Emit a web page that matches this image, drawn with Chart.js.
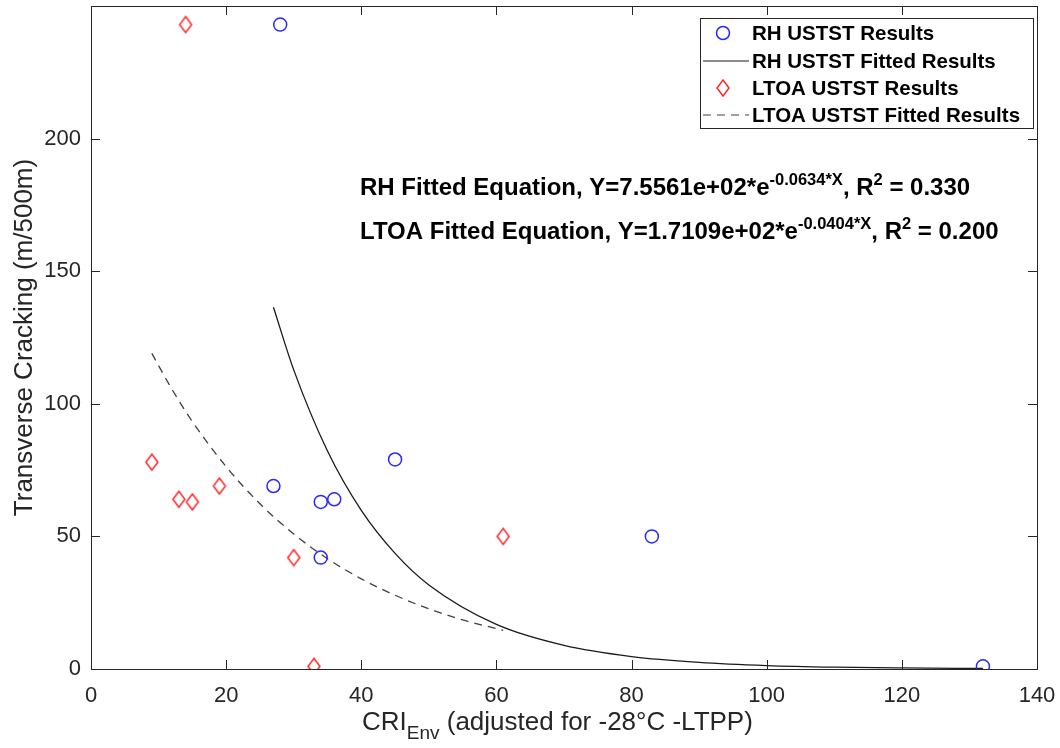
<!DOCTYPE html>
<html>
<head>
<meta charset="utf-8">
<script src="https://cdn.jsdelivr.net/npm/chart.js@4.4.0/dist/chart.umd.min.js"></script>
<style>
body{margin:0;background:#fff;}
</style>
</head>
<body>
<canvas id="mycanvas" width="1060" height="748"></canvas>
<script>
// measured points
var rhX = [28, 27, 34, 36, 34, 45, 83, 132];
var rhY = [243, 69, 63, 64, 42, 79, 50, 1];
var ltoaX = [14, 9, 13, 15, 19, 30, 33, 61];
var ltoaY = [243, 78, 64, 63, 69, 42, 1, 50];

// fitted curves
var rhFitX = [27, 30, 35, 40, 45, 50, 60, 70, 80, 90, 100, 110, 120, 132];
var rhFitY = [136.4, 112.8, 82.2, 59.8, 43.6, 31.7, 16.8, 8.9, 4.7, 2.5, 1.3, 0.7, 0.4, 0.2];
var ltoaFitX = [9, 12, 15, 20, 25, 30, 35, 40, 45, 50, 55, 61];
var ltoaFitY = [119.0, 105.4, 93.3, 76.3, 62.3, 50.9, 41.6, 34.0, 27.8, 22.7, 18.5, 14.6];

var xTicks = [0, 20, 40, 60, 80, 100, 120, 140];
var yTicks = [0, 50, 100, 150, 200];

var legendLabels = ['RH USTST Results', 'RH USTST Fitted Results', 'LTOA USTST Results', 'LTOA USTST Fitted Results'];
var eqLines = [
  [['RH Fitted Equation, Y=7.5561e+02*e', 0], ['-0.0634*X', 1], [', R', 0], ['2', 1], [' = 0.330', 0]],
  [['LTOA Fitted Equation, Y=1.7109e+02*e', 0], ['-0.0404*X', 1], [', R', 0], ['2', 1], [' = 0.200', 0]]
];

function pts(xs, ys) {
  var out = [];
  for (var i = 0; i < xs.length; i++) out.push({x: xs[i], y: ys[i]});
  return out;
}

var axisCol = '#262626';
var fnt = 'Liberation Sans, Arial, sans-serif';

var deco = {
  id: 'deco',
  afterDraw: function(chart) {
    var c = chart.ctx, a = chart.chartArea;
    var sx = chart.scales.x, sy = chart.scales.y;
    c.save();
    // box + inward ticks
    c.strokeStyle = axisCol;
    c.lineWidth = 1;
    c.strokeRect(Math.round(a.left) + 0.5, Math.round(a.top) + 0.5, Math.round(a.right - a.left), Math.round(a.bottom - a.top));
    c.beginPath();
    xTicks.forEach(function(v) {
      var p = Math.round(sx.getPixelForValue(v)) + 0.5;
      c.moveTo(p, a.bottom); c.lineTo(p, a.bottom - 9);
      c.moveTo(p, a.top); c.lineTo(p, a.top + 9);
    });
    yTicks.forEach(function(v) {
      var p = Math.round(sy.getPixelForValue(v)) + 0.5;
      c.moveTo(a.left, p); c.lineTo(a.left + 9, p);
      c.moveTo(a.right, p); c.lineTo(a.right - 9, p);
    });
    c.stroke();

    // x title with subscript
    c.fillStyle = axisCol;
    c.textBaseline = 'alphabetic';
    var big = '26px ' + fnt, small = '19px ' + fnt;
    c.font = big; var w1 = c.measureText('CRI').width;
    c.font = small; var w2 = c.measureText('Env').width;
    var x0 = 362, by = 730;
    c.textAlign = 'left';
    c.font = big; c.fillText('CRI', x0, by);
    c.font = small; c.fillText('Env', x0 + w1, by + 9);
    c.font = big; c.fillText(' (adjusted for -28\u00b0C -LTPP)', x0 + w1 + w2, by);

    // equations
    c.fillStyle = '#000';
    eqLines.forEach(function(line, i) {
      var x = 360, y = 195 + i * 44;
      line.forEach(function(seg) {
        c.font = seg[1] ? 'bold 16.5px ' + fnt : 'bold 24px ' + fnt;
        c.fillText(seg[0], x, seg[1] ? y - 10 : y);
        x += c.measureText(seg[0]).width;
      });
    });

    // legend
    var L = 700, T = 18, R = 1033, B = 128;
    c.fillStyle = '#fff';
    c.fillRect(L, T, R - L, B - T);
    c.strokeStyle = axisCol;
    c.strokeRect(L + 0.5, T + 0.5, R - L, B - T);
    var rows = [33, 61, 88, 115];
    var ds = chart.data.datasets;
    c.textBaseline = 'middle';
    c.font = 'bold 20.5px ' + fnt;
    rows.forEach(function(y, i) {
      var d = ds[i];
      c.save();
      if (i === 0) {
        c.strokeStyle = d.borderColor; c.lineWidth = 1.5;
        c.beginPath(); c.arc(723, y, 6.5, 0, Math.PI * 2); c.stroke();
      } else if (i === 2) {
        c.strokeStyle = d.borderColor; c.lineWidth = 1.5;
        c.beginPath(); c.moveTo(723, y - 8); c.lineTo(729, y); c.lineTo(723, y + 8); c.lineTo(717, y); c.closePath(); c.stroke();
      } else {
        c.strokeStyle = d.borderColor; c.lineWidth = 1.2;
        c.setLineDash(d.borderDash || []);
        c.beginPath(); c.moveTo(703, y); c.lineTo(749, y); c.stroke();
      }
      c.restore();
      c.fillStyle = '#000';
      c.fillText(legendLabels[i], 752, y + 1);
    });
    c.restore();
  }
};

// diamond point image (a bit taller than wide)
var diamond = document.createElement('canvas');
diamond.width = 16; diamond.height = 20;
(function() {
  var g = diamond.getContext('2d');
  g.strokeStyle = 'rgb(255,40,40)'; g.lineWidth = 1.5;
  g.beginPath(); g.moveTo(8, 2); g.lineTo(14, 10); g.lineTo(8, 18); g.lineTo(2, 10); g.closePath(); g.stroke();
})();

var ctx = document.getElementById('mycanvas');
var chart = new Chart(ctx, {
  type: 'scatter',
  data: {
    datasets: [
      {
        label: legendLabels[0],
        data: pts(rhX, rhY),
        borderColor: 'rgb(40,40,255)',
        backgroundColor: 'rgba(0,0,0,0)',
        pointStyle: 'circle',
        pointRadius: 6.5,
        pointBorderWidth: 1.5
      },
      {
        label: legendLabels[1],
        data: pts(rhFitX, rhFitY),
        showLine: true,
        borderColor: '#1a1a1a',
        borderWidth: 1.3,
        pointRadius: 0,
        cubicInterpolationMode: 'monotone'
      },
      {
        label: legendLabels[2],
        data: pts(ltoaX, ltoaY),
        borderColor: 'rgb(255,40,40)',
        backgroundColor: 'rgba(0,0,0,0)',
        pointStyle: diamond,
        pointRadius: 8
      },
      {
        label: legendLabels[3],
        data: pts(ltoaFitX, ltoaFitY),
        showLine: true,
        borderColor: '#404040',
        borderWidth: 1.3,
        borderDash: [8, 6],
        pointRadius: 0,
        cubicInterpolationMode: 'monotone'
      }
    ]
  },
  options: {
    responsive: false,
    animation: false,
    layout: {autoPadding: false, padding: {left: 0, top: 6, right: 23, bottom: 0}},
    plugins: {legend: {display: false}, tooltip: {enabled: false}},
    scales: {
      x: {
        type: 'linear', min: 0, max: 140,
        afterBuildTicks: function(s) { s.ticks = xTicks.map(function(v) { return {value: v}; }); },
        afterFit: function(s) { s.height = 79; s.paddingLeft = 0; s.paddingRight = 0; },
        grid: {display: false},
        border: {display: false},
        ticks: {color: axisCol, font: {family: fnt, size: 22}, padding: 6, maxRotation: 0}
      },
      y: {
        type: 'linear', min: 0, max: 250,
        afterBuildTicks: function(s) { s.ticks = yTicks.map(function(v) { return {value: v}; }); },
        afterFit: function(s) { s.width = 91; s.paddingTop = 0; s.paddingBottom = 0; },
        grid: {display: false},
        border: {display: false},
        title: {display: true, text: 'Transverse Cracking (m/500m)', color: axisCol, font: {family: fnt, size: 26}, padding: {top: 9, bottom: 0}},
        ticks: {color: axisCol, font: {family: fnt, size: 22}, padding: 2}
      }
    }
  },
  plugins: [deco]
});
</script>
</body>
</html>
